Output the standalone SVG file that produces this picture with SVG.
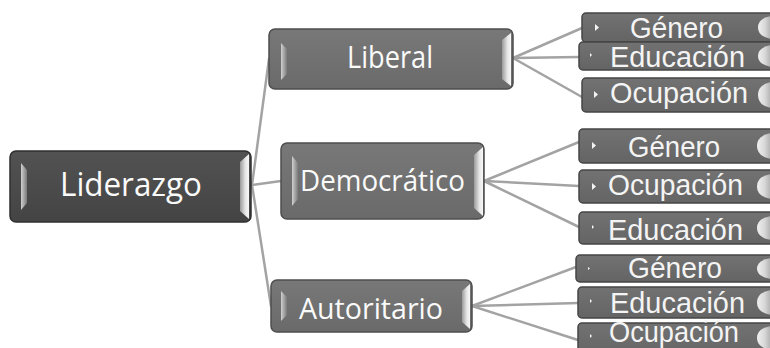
<svg xmlns="http://www.w3.org/2000/svg" width="770" height="348" viewBox="0 0 770 348">
<defs>
<linearGradient id="gDark" x1="0" y1="0" x2="0" y2="1"><stop offset="0" stop-color="#525252"/><stop offset="1" stop-color="#444"/></linearGradient>
<linearGradient id="gMid" x1="0" y1="0" x2="0" y2="1"><stop offset="0" stop-color="#787878"/><stop offset="1" stop-color="#6a6a6a"/></linearGradient>
<linearGradient id="gLeaf" x1="0" y1="0" x2="0" y2="1"><stop offset="0" stop-color="#727272"/><stop offset="1" stop-color="#646464"/></linearGradient>
<linearGradient id="bevL" x1="0" y1="0" x2="1" y2="0"><stop offset="0" stop-color="#d0d0d0"/><stop offset="1" stop-color="#7a7a7a"/></linearGradient>
<linearGradient id="bevR" x1="0" y1="0" x2="1" y2="0"><stop offset="0" stop-color="#9a9a9a"/><stop offset="0.6" stop-color="#e6e6e6"/><stop offset="1" stop-color="#f8f8f8"/></linearGradient>
<linearGradient id="bevLeafR" x1="0" y1="0" x2="1" y2="0"><stop offset="0" stop-color="#f0f0f0"/><stop offset="0.5" stop-color="#d8d8d8"/><stop offset="1" stop-color="#a8a8a8"/></linearGradient>
</defs>
<style>
.c{stroke:#a3a3a3;stroke-width:2.5;fill:none;stroke-linecap:round}
.dark{fill:url(#gDark);stroke:#2f2f2f;stroke-width:1.5}
.mid{fill:url(#gMid);stroke:#4e4e4e;stroke-width:1.5}
.leaf{fill:url(#gLeaf);stroke:#454545;stroke-width:1.5}
.bl{fill:url(#bevL)}
.br{fill:url(#bevR)}
.lr{fill:url(#bevLeafR)}
.tri{fill:#f4f4f4}
.t1{font-family:"Open Sans","Noto Sans",sans-serif;fill:#fafafa;text-anchor:middle}
.t2{font-family:"Liberation Sans",Arial,sans-serif;fill:#f4f4f4;text-anchor:middle;font-size:29px}
</style>
<g id="connectors">
<line class="c" x1="252" y1="185" x2="269" y2="59"/>
<line class="c" x1="252" y1="185" x2="281" y2="181"/>
<line class="c" x1="252" y1="185" x2="271" y2="306"/>
<line class="c" x1="513" y1="58" x2="582" y2="28"/>
<line class="c" x1="513" y1="58" x2="579" y2="57"/>
<line class="c" x1="513" y1="58" x2="582" y2="97"/>
<line class="c" x1="484" y1="181" x2="579" y2="142"/>
<line class="c" x1="484" y1="181" x2="579" y2="186"/>
<line class="c" x1="484" y1="181" x2="579" y2="227"/>
<line class="c" x1="472" y1="306" x2="576" y2="267"/>
<line class="c" x1="472" y1="306" x2="578" y2="303"/>
<line class="c" x1="472" y1="306" x2="578" y2="340"/>
</g>
<g id="liderazgo">
<rect class="dark" x="10" y="151" width="241" height="71" rx="6"/>
<polygon class="bl" points="21,163 27,170 27,203 21,210"/>
<polygon class="br" points="240,162 249,154 249,219 240,211"/>
<text class="t1" x="131" y="196" font-size="33" textLength="142" lengthAdjust="spacingAndGlyphs">Liderazgo</text>
</g>
<g id="liberal">
<rect class="mid" x="269" y="29" width="244" height="60" rx="6"/>
<polygon class="bl" points="281,43 287,49 287,74 281,80"/>
<polygon class="br" points="502,40 511,33 511,86 502,79"/>
<text class="t1" x="390" y="68" font-size="31" textLength="86" lengthAdjust="spacingAndGlyphs">Liberal</text>
</g>
<g id="democratico">
<rect class="mid" x="281" y="143" width="203" height="76" rx="6"/>
<polygon class="bl" points="292,156 298,163 298,199 292,206"/>
<polygon class="br" points="474,155 483,147 483,216 474,208"/>
<text class="t1" x="382.5" y="191" font-size="29" textLength="165" lengthAdjust="spacingAndGlyphs">Democrático</text>
</g>
<g id="autoritario">
<rect class="mid" x="271" y="280" width="201" height="52" rx="6"/>
<polygon class="bl" points="281,291 287,297 287,315 281,321"/>
<polygon class="br" points="462,291 470,284 470,329 462,322"/>
<text class="t1" x="371" y="319" font-size="29" textLength="144" lengthAdjust="spacingAndGlyphs">Autoritario</text>
</g>
<g id="lib-genero">
<rect class="leaf" x="582" y="13" width="200" height="29" rx="4"/>
<polygon class="tri" points="595,24 599,27.5 595,31"/>
<path class="lr" d="M772,16 Q758,18 758,27.5 Q758,37 772,39 Z"/>
<text class="t2" x="676.5" y="38" textLength="93" lengthAdjust="spacingAndGlyphs">Género</text>
</g>
<g id="lib-educacion">
<rect class="leaf" x="579" y="42" width="200" height="28" rx="4"/>
<polygon class="tri" points="590,53 592,55 590,57"/>
<path class="lr" d="M772,45 Q758,47 758,56 Q758,65 772,67 Z"/>
<text class="t2" x="677.5" y="67" textLength="135" lengthAdjust="spacingAndGlyphs">Educación</text>
</g>
<g id="lib-ocupacion">
<rect class="leaf" x="582" y="78" width="200" height="34" rx="4"/>
<polygon class="tri" points="594,91 598,94.5 594,98"/>
<path class="lr" d="M772,82 Q758,84 758,95 Q758,106 772,108 Z"/>
<text class="t2" x="679" y="103" textLength="138" lengthAdjust="spacingAndGlyphs">Ocupación</text>
</g>
<g id="dem-genero">
<rect class="leaf" x="579" y="129" width="200" height="34" rx="4"/>
<polygon class="tri" points="592,142 596,145.5 592,149"/>
<path class="lr" d="M772,133 Q757,135 757,146 Q757,157 772,159 Z"/>
<text class="t2" x="674" y="157" textLength="92" lengthAdjust="spacingAndGlyphs">Género</text>
</g>
<g id="dem-ocupacion">
<rect class="leaf" x="579" y="170" width="200" height="33" rx="4"/>
<polygon class="tri" points="592,183 596,186.5 592,190"/>
<path class="lr" d="M772,174 Q757,176 757,186.5 Q757,197 772,199 Z"/>
<text class="t2" x="675.5" y="195" textLength="135" lengthAdjust="spacingAndGlyphs">Ocupación</text>
</g>
<g id="dem-educacion">
<rect class="leaf" x="579" y="212" width="200" height="32" rx="4"/>
<polygon class="tri" points="592,225 594,227 592,229"/>
<path class="lr" d="M772,216 Q757,218 757,228 Q757,238 772,240 Z"/>
<text class="t2" x="675.5" y="240" textLength="135" lengthAdjust="spacingAndGlyphs">Educación</text>
</g>
<g id="aut-genero">
<rect class="leaf" x="576" y="255" width="200" height="27" rx="4"/>
<polygon class="tri" points="588,267 590,268.5 588,270"/>
<path class="lr" d="M772,258 Q757,260 757,268.5 Q757,277 772,279 Z"/>
<text class="t2" x="675" y="278" textLength="94" lengthAdjust="spacingAndGlyphs">Género</text>
</g>
<g id="aut-educacion">
<rect class="leaf" x="578" y="287" width="200" height="31" rx="4"/>
<polygon class="tri" points="590,299 592,301 590,303"/>
<path class="lr" d="M772,290 Q757,292 757,302.5 Q757,313 772,315 Z"/>
<text class="t2" x="677.5" y="313" font-size="28" textLength="135" lengthAdjust="spacingAndGlyphs">Educación</text>
</g>
<g id="aut-ocupacion">
<rect class="leaf" x="578" y="323" width="200" height="34" rx="4"/>
<polygon class="tri" points="590,334 592,336 590,338"/>
<path class="lr" d="M772,326 Q757,328 757,338 Q757,348 772,350 Z"/>
<text class="t2" x="674" y="342" font-size="26" textLength="130" lengthAdjust="spacingAndGlyphs">Ocupación</text>
</g>
</svg>
